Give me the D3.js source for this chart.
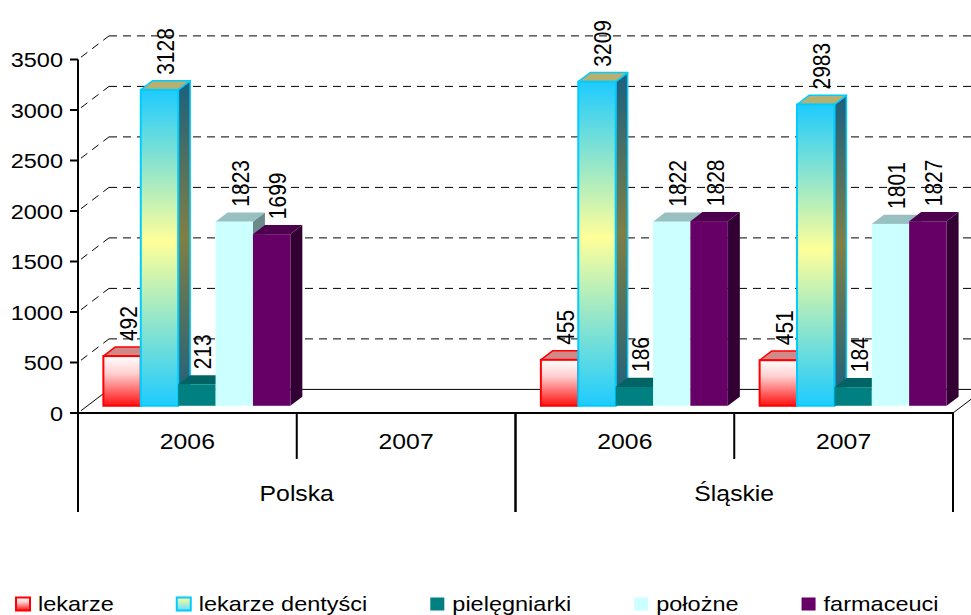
<!DOCTYPE html>
<html>
<head>
<meta charset="utf-8">
<script src="https://cdn.jsdelivr.net/npm/d3@7"></script>
<style>
  body { margin: 0; background: #fff; }
  text { font-family: "Liberation Sans", Arial, sans-serif; fill: #000; }
</style>
</head>
<body>
<script>
// data
const regions = ["Polska", "Śląskie"];
const years = ["2006", "2007"];
const series = ["lekarze", "lekarze dentyści", "pielęgniarki", "położne", "farmaceuci"];
const polska2006 = [492, 3128, 213, 1823, 1699];
const polska2007 = [null, null, null, null, null];
const slaskie2006 = [455, 3209, 186, 1822, 1828];
const slaskie2007 = [451, 2983, 184, 1801, 1827];
const yTicks = [0, 500, 1000, 1500, 2000, 2500, 3000, 3500];

const rows = [
  {region: regions[0], year: years[0], values: polska2006},
  {region: regions[0], year: years[1], values: polska2007},
  {region: regions[1], year: years[0], values: slaskie2006},
  {region: regions[1], year: years[1], values: slaskie2007}
];
rows.forEach((r, i) => r.key = i);

// sizes
const width = 971, height = 615;
const left = 78, right = 953, base = 413;
const DX = 31, DY = -23.6;          // depth of the 3d box
const frontF = 0.306, depthF = 0.387; // where the bars sit inside the depth
const stretch = 1.12;

const svg = d3.select("body").append("svg")
  .attr("width", width).attr("height", height)
  .style("display", "block");

const defs = svg.append("defs");
function grad(id, stops) {
  const g = defs.append("linearGradient").attr("id", id)
    .attr("x1", 0).attr("y1", 0).attr("x2", 0).attr("y2", 1);
  stops.forEach(s => g.append("stop").attr("offset", s[0]).attr("stop-color", s[1]));
}
grad("gRed", [[0, "#ffffff"], [0.35, "#ffd0d0"], [1, "#ff1010"]]);
grad("gDent", [[0, "#1ecbff"], [0.48, "#ffff99"], [1, "#1ecbff"]]);
grad("gDentSide", [[0, "#1a6080"], [0.48, "#807f45"], [1, "#1a6080"]]);
grad("gDentLeg", [[0, "#ffff99"], [1, "#66ddff"]]);

const styles = [
  {front: "url(#gRed)", top: "#d08888", side: "#a00000", stroke: "#ff0000", sw: 2, leg: "url(#gRed)"},
  {front: "url(#gDent)", top: "#b8b070", side: "url(#gDentSide)", stroke: "#00ccff", sw: 2, leg: "url(#gDentLeg)"},
  {front: "#008080", top: "#006464", side: "#004c4c", stroke: "none", sw: 0, leg: "#008080"},
  {front: "#ccffff", top: "#99c0c0", side: "#6b8b8b", stroke: "none", sw: 0, leg: "#ccffff"},
  {front: "#660066", top: "#4d004d", side: "#330033", stroke: "none", sw: 0, leg: "#660066"}
];

// scales
const x0 = d3.scaleBand().domain(rows.map(r => r.key)).range([left, right]);
const x1 = d3.scaleBand().domain(series).range([0, x0.bandwidth()]).paddingOuter(0.425);
const y = d3.scaleLinear().domain([0, 3500]).range([base, 59.5]);

// walls: gridlines
const grid = svg.append("g");
yTicks.forEach(v => {
  const dash = v === 0 ? null : "8,6";
  grid.append("line")
    .attr("x1", left + DX).attr("x2", right + DX)
    .attr("y1", y(v) + DY).attr("y2", y(v) + DY)
    .attr("stroke", "#000").attr("stroke-width", 1).attr("stroke-dasharray", dash);
  grid.append("line")
    .attr("x1", left + 3).attr("y1", y(v) + DY * 3 / DX)
    .attr("x2", left + DX).attr("y2", y(v) + DY)
    .attr("stroke", "#000").attr("stroke-width", 1).attr("stroke-dasharray", dash);
});
grid.append("line")
  .attr("x1", right).attr("y1", base).attr("x2", right + DX).attr("y2", base + DY)
  .attr("stroke", "#000");

// bars
const offX = frontF * DX, offY = frontF * DY;
const bdx = depthF * DX, bdy = depthF * DY;
const bw = x1.bandwidth();
const bars = svg.append("g");
const labels = svg.append("g");

rows.forEach(r => {
  r.values.forEach((v, i) => {
    if (v == null) return;
    const st = styles[i];
    const bx = x0(r.key) + x1(series[i]) + offX;
    const ty = y(v) + offY, by = y(0) + offY;
    const g = bars.append("g");
    g.append("polygon")
      .attr("points", [[bx + bw, ty], [bx + bw + bdx, ty + bdy], [bx + bw + bdx, by + bdy], [bx + bw, by]].join(" "))
      .attr("fill", st.side).attr("stroke", st.stroke).attr("stroke-width", st.sw > 0 ? 1.5 : 0)
      .attr("stroke-linejoin", "round");
    g.append("polygon")
      .attr("points", [[bx, ty], [bx + bdx, ty + bdy], [bx + bw + bdx, ty + bdy], [bx + bw, ty]].join(" "))
      .attr("fill", st.top).attr("stroke", st.stroke).attr("stroke-width", st.sw > 0 ? 1.5 : 0)
      .attr("stroke-linejoin", "round");
    g.append("rect")
      .attr("x", bx).attr("y", ty).attr("width", bw).attr("height", by - ty)
      .attr("fill", st.front).attr("stroke", st.stroke).attr("stroke-width", st.sw);

    labels.append("text")
      .attr("transform", `translate(${bx + bw / 2 + bdx / 2},${ty - 15}) scale(${stretch},1) rotate(-90)`)
      .attr("dy", "0.36em")
      .style("font-size", "21px")
      .text(v);
  });
});

// y axis
const ax = svg.append("g");
ax.append("line").attr("x1", left).attr("x2", left).attr("y1", y(3500)).attr("y2", base + 1)
  .attr("stroke", "#000").attr("stroke-width", 2);
yTicks.forEach(v => {
  ax.append("line").attr("x1", left - 8).attr("x2", left).attr("y1", y(v)).attr("y2", y(v))
    .attr("stroke", "#000").attr("stroke-width", 2);
  ax.append("text")
    .attr("transform", `translate(${left - 15},${y(v)}) scale(${stretch},1)`)
    .attr("text-anchor", "end").attr("dy", "0.36em")
    .style("font-size", "21px")
    .text(v);
});

// x axis
ax.append("line").attr("x1", left - 1).attr("x2", right + 1).attr("y1", base).attr("y2", base)
  .attr("stroke", "#000").attr("stroke-width", 2);
rows.forEach(r => {
  const cx = x0(r.key) + x0.bandwidth() / 2;
  ax.append("text")
    .attr("transform", `translate(${cx},449) scale(1.1,1)`)
    .attr("text-anchor", "middle")
    .style("font-size", "22.5px")
    .text(r.year);
});
regions.forEach(reg => {
  const inReg = rows.filter(r => r.region === reg);
  const x_a = x0(inReg[0].key), x_b = x0(inReg[inReg.length - 1].key) + x0.bandwidth();
  ax.append("line").attr("x1", x_a).attr("x2", x_a).attr("y1", base).attr("y2", 512)
    .attr("stroke", "#000").attr("stroke-width", 2);
  ax.append("line").attr("x1", x_b).attr("x2", x_b).attr("y1", base).attr("y2", 512)
    .attr("stroke", "#000").attr("stroke-width", 2);
  inReg.slice(1).forEach(r => {
    ax.append("line").attr("x1", x0(r.key)).attr("x2", x0(r.key)).attr("y1", base).attr("y2", 459)
      .attr("stroke", "#000").attr("stroke-width", 2);
  });
  ax.append("text")
    .attr("transform", `translate(${(x_a + x_b) / 2},501) scale(1.1,1)`)
    .attr("text-anchor", "middle")
    .style("font-size", "22.5px")
    .text(reg);
});

// legend
const legend = svg.append("g");
let lx = 16;
series.forEach((s, i) => {
  const st = styles[i];
  legend.append("rect")
    .attr("x", lx).attr("y", 597.5).attr("width", 14).attr("height", 13)
    .attr("fill", st.leg)
    .attr("stroke", st.stroke === "none" ? "none" : st.stroke).attr("stroke-width", 2);
  const t = legend.append("text")
    .attr("transform", `translate(${lx + 22},611) scale(${stretch},1)`)
    .style("font-size", "21px")
    .text(s);
  const w = t.node().getComputedTextLength() * stretch;
  lx = lx + 22 + w + 63;
});
</script>
</body>
</html>
